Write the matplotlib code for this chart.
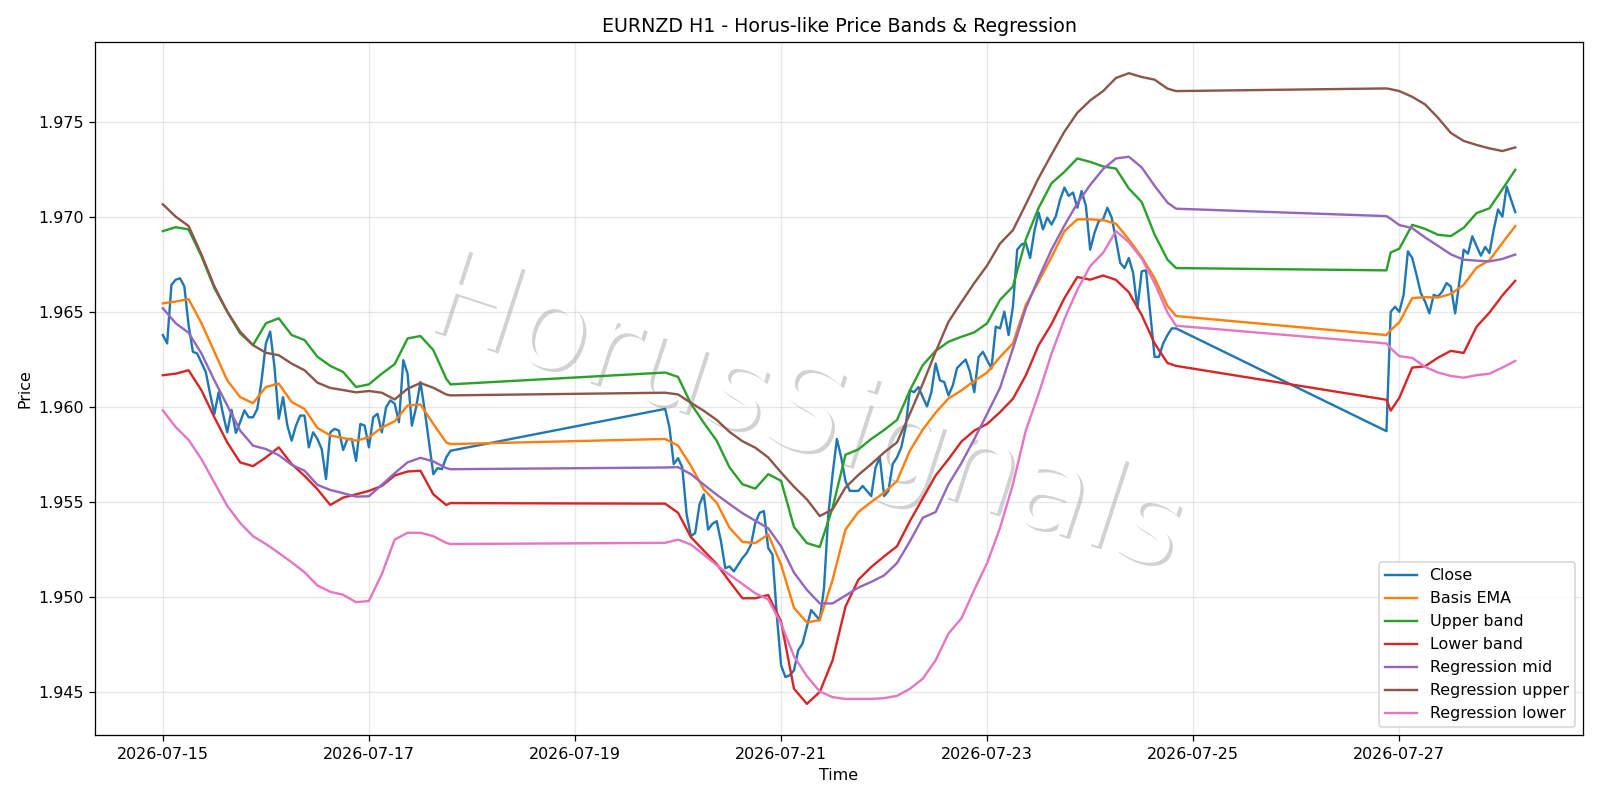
import pandas as pd
import matplotlib
matplotlib.use('Agg')
import matplotlib.pyplot as plt
import matplotlib.patheffects as pe

start = pd.Timestamp('2026-07-15 00:00')

# hourly closes, three trading sessions (hours counted from start)
close_hours = list(range(0, 68)) + list(range(117, 237)) + list(range(285, 316))
close = [
    # session 1: 07-15 00:00 .. 07-17 19:00
    1.96378, 1.96334, 1.96642, 1.96669, 1.96676, 1.96634, 1.96430, 1.96290, 1.96281, 1.96232,
    1.96184, 1.96070, 1.95964, 1.96077, 1.95964, 1.95867, 1.95985, 1.95864, 1.95920, 1.95982,
    1.95946, 1.95946, 1.95990, 1.96140, 1.96334, 1.96396, 1.96211, 1.95938, 1.96052, 1.95902,
    1.95823, 1.95902, 1.95955, 1.95955, 1.95788, 1.95867, 1.95832, 1.95779, 1.95621, 1.95867,
    1.95885, 1.95876, 1.95774, 1.95832, 1.95832, 1.95717, 1.95911, 1.95902, 1.95788, 1.95946,
    1.95964, 1.95867, 1.95999, 1.96035, 1.96017, 1.95920, 1.96246, 1.96175, 1.95902, 1.95999,
    1.96131, 1.95982, 1.95814, 1.95647, 1.95679, 1.95673, 1.95735, 1.95770,
    # session 2: 07-19 21:00 .. 07-24 20:00
    1.95990, 1.95893, 1.95700, 1.95731, 1.95682, 1.95435, 1.95321, 1.95338, 1.95488, 1.95541,
    1.95356, 1.95386, 1.95400, 1.95294, 1.95153, 1.95162, 1.95136, 1.95171, 1.95206, 1.95233,
    1.95277, 1.95391, 1.95444, 1.95453, 1.95259, 1.95224, 1.94907, 1.94643, 1.94581, 1.94590,
    1.94616, 1.94722, 1.94757, 1.94845, 1.94933, 1.94907, 1.94880, 1.95048, 1.95435, 1.95647,
    1.95832, 1.95735, 1.95611, 1.95559, 1.95559, 1.95559, 1.95585, 1.95559, 1.95532, 1.95682,
    1.95735, 1.95532, 1.95559, 1.95700, 1.95735, 1.95788, 1.95893, 1.96087, 1.96078, 1.96105,
    1.96052, 1.96003, 1.96078, 1.96228, 1.96140, 1.96131, 1.96061, 1.96114, 1.96205, 1.96228,
    1.96249, 1.96184, 1.96078, 1.96263, 1.96290, 1.96246, 1.96202, 1.96422, 1.96413, 1.96501,
    1.96378, 1.96528, 1.96827, 1.96854, 1.96862, 1.96783, 1.96924, 1.97021, 1.96933, 1.96995,
    1.96959, 1.97003, 1.97091, 1.97153, 1.97109, 1.97127, 1.97047, 1.97135, 1.97056, 1.96827,
    1.96915, 1.96977, 1.96986, 1.97047, 1.96995, 1.96880, 1.96757, 1.96730, 1.96783, 1.96704,
    1.96519, 1.96713, 1.96718, 1.96492, 1.96263, 1.96263, 1.96334, 1.96378, 1.96413, 1.96413,
    # session 3: 07-26 21:00 .. 07-28 03:00
    1.95873, 1.96500, 1.96527, 1.96500, 1.96589, 1.96818, 1.96783, 1.96695, 1.96598, 1.96554,
    1.96492, 1.96589, 1.96580, 1.96607, 1.96651, 1.96633, 1.96492, 1.96659, 1.96827, 1.96806,
    1.96897, 1.96845, 1.96795, 1.96841, 1.96809, 1.96933, 1.97038, 1.97000, 1.97158, 1.97091,
    1.97024,
]

# bands read every 3 hours
band_hours = (list(range(0, 67, 3)) + [67]
              + list(range(117, 235, 3)) + [236]
              + [285, 286] + list(range(288, 316, 3)))

basis = [
    1.96545, 1.96554, 1.96567, 1.96440, 1.96290, 1.96140, 1.96052, 1.96020, 1.96105, 1.96123,
    1.96026, 1.95990, 1.95890, 1.95850, 1.95837, 1.95823, 1.95841, 1.95892, 1.95925, 1.96008,
    1.96013, 1.95911, 1.95814, 1.95805,
    1.95832, 1.95797, 1.95691, 1.95567, 1.95497, 1.95365, 1.95291, 1.95285, 1.95330, 1.95171,
    1.94945, 1.94868, 1.94880, 1.95092, 1.95356, 1.95448, 1.95501, 1.95550, 1.95611, 1.95770,
    1.95881, 1.95970, 1.96045, 1.96087, 1.96137, 1.96181, 1.96263, 1.96334, 1.96536, 1.96660,
    1.96788, 1.96924, 1.96986, 1.96986, 1.96982, 1.96963, 1.96880, 1.96788, 1.96677, 1.96531,
    1.96478,
    1.96378, 1.96404, 1.96445, 1.96572, 1.96577, 1.96575, 1.96594, 1.96642, 1.96732, 1.96771,
    1.96862, 1.96950,
]
upper = [
    1.96924, 1.96945, 1.96933, 1.96792, 1.96625, 1.96501, 1.96387, 1.96325, 1.96440, 1.96466,
    1.96378, 1.96352, 1.96264, 1.96216, 1.96184, 1.96105, 1.96119, 1.96175, 1.96225, 1.96360,
    1.96373, 1.96299, 1.96149, 1.96119,
    1.96181, 1.96158, 1.96017, 1.95917, 1.95823, 1.95682, 1.95594, 1.95571, 1.95647, 1.95612,
    1.95370, 1.95285, 1.95264, 1.95471, 1.95749, 1.95777, 1.95832, 1.95879, 1.95932, 1.96087,
    1.96220, 1.96295, 1.96343, 1.96369, 1.96392, 1.96440, 1.96563, 1.96633, 1.96880, 1.97047,
    1.97176, 1.97236, 1.97306, 1.97288, 1.97264, 1.97253, 1.97148, 1.97077, 1.96906, 1.96774,
    1.96730,
    1.96718, 1.96812, 1.96832, 1.96957, 1.96936, 1.96905, 1.96898, 1.96942, 1.97019, 1.97044,
    1.97144, 1.97246,
]
lower = [
    1.96167, 1.96175, 1.96193, 1.96087, 1.95946, 1.95814, 1.95709, 1.95689, 1.95735, 1.95788,
    1.95700, 1.95638, 1.95568, 1.95485, 1.95524, 1.95541, 1.95559, 1.95585, 1.95640, 1.95661,
    1.95665, 1.95541, 1.95485, 1.95495,
    1.95492, 1.95444, 1.95316, 1.95245, 1.95175, 1.95083, 1.94995, 1.94995, 1.95012, 1.94872,
    1.94520, 1.94440, 1.94502, 1.94669, 1.94951, 1.95092, 1.95159, 1.95215, 1.95268, 1.95400,
    1.95520, 1.95640, 1.95726, 1.95818, 1.95876, 1.95911, 1.95973, 1.96043, 1.96166, 1.96325,
    1.96436, 1.96572, 1.96683, 1.96669, 1.96691, 1.96668, 1.96603, 1.96483, 1.96334, 1.96231,
    1.96216,
    1.96038, 1.95981, 1.96048, 1.96207, 1.96214, 1.96259, 1.96295, 1.96284, 1.96422, 1.96496,
    1.96586, 1.96663,
]
reg_mid = [
    1.96519, 1.96440, 1.96390, 1.96281, 1.96140, 1.96008, 1.95876, 1.95797, 1.95779, 1.95747,
    1.95696, 1.95665, 1.95591, 1.95564, 1.95547, 1.95529, 1.95531, 1.95591, 1.95652, 1.95709,
    1.95733, 1.95714, 1.95679, 1.95673,
    1.95682, 1.95684, 1.95647, 1.95592, 1.95539, 1.95490, 1.95442, 1.95402, 1.95363, 1.95268,
    1.95130, 1.95039, 1.94968, 1.94968, 1.95009, 1.95051, 1.95081, 1.95115, 1.95180, 1.95294,
    1.95418, 1.95448, 1.95594, 1.95705, 1.95832, 1.95964, 1.96101, 1.96307, 1.96519, 1.96678,
    1.96827, 1.96954, 1.97070, 1.97167, 1.97250, 1.97306, 1.97315, 1.97259, 1.97162, 1.97074,
    1.97042,
    1.97003, 1.96989, 1.96956, 1.96940, 1.96891, 1.96847, 1.96802, 1.96774, 1.96769, 1.96765,
    1.96778, 1.96801,
]
reg_upper = [
    1.97065, 1.97000, 1.96951, 1.96801, 1.96634, 1.96501, 1.96396, 1.96325, 1.96285, 1.96272,
    1.96228, 1.96193, 1.96128, 1.96100, 1.96089, 1.96077, 1.96084, 1.96075, 1.96040, 1.96096,
    1.96126, 1.96101, 1.96066, 1.96061,
    1.96075, 1.96066, 1.96022, 1.95980, 1.95932, 1.95869, 1.95820, 1.95786, 1.95735, 1.95656,
    1.95581, 1.95515, 1.95427, 1.95462, 1.95577, 1.95643, 1.95700, 1.95761, 1.95814, 1.95964,
    1.96122, 1.96290, 1.96448, 1.96551, 1.96651, 1.96744, 1.96859, 1.96929, 1.97065, 1.97204,
    1.97327, 1.97447, 1.97546, 1.97611, 1.97660, 1.97729, 1.97754, 1.97734, 1.97720, 1.97673,
    1.97660,
    1.97674, 1.97670, 1.97660, 1.97630, 1.97590, 1.97520, 1.97440, 1.97398, 1.97377, 1.97359,
    1.97345, 1.97364,
]
reg_lower = [
    1.95982, 1.95894, 1.95827, 1.95726, 1.95603, 1.95480, 1.95391, 1.95321, 1.95280, 1.95233,
    1.95184, 1.95132, 1.95062, 1.95029, 1.95013, 1.94974, 1.94981, 1.95122, 1.95303, 1.95339,
    1.95339, 1.95321, 1.95286, 1.95280,
    1.95286, 1.95303, 1.95277, 1.95224, 1.95169, 1.95118, 1.95070, 1.95021, 1.94989, 1.94862,
    1.94690, 1.94586, 1.94505, 1.94475, 1.94466, 1.94466, 1.94466, 1.94470, 1.94482, 1.94519,
    1.94572, 1.94669, 1.94810, 1.94889, 1.95039, 1.95180, 1.95365, 1.95594, 1.95876, 1.96070,
    1.96281, 1.96462, 1.96616, 1.96740, 1.96810, 1.96924, 1.96866, 1.96780, 1.96651, 1.96496,
    1.96427,
    1.96334, 1.96308, 1.96267, 1.96258, 1.96211, 1.96181, 1.96163, 1.96154, 1.96167, 1.96175,
    1.96207, 1.96242,
]

t_close = start + pd.to_timedelta(close_hours, unit='h')
t_band = start + pd.to_timedelta(band_hours, unit='h')

fig, ax = plt.subplots(figsize=(14, 7), dpi=1600 / 14)

ax.plot(t_close, close, label='Close', linewidth=1.5)
ax.plot(t_band, basis, label='Basis EMA', linewidth=1.5)
ax.plot(t_band, upper, label='Upper band', linewidth=1.5)
ax.plot(t_band, lower, label='Lower band', linewidth=1.5)
ax.plot(t_band, reg_mid, label='Regression mid', linewidth=1.5)
ax.plot(t_band, reg_upper, label='Regression upper', linewidth=1.5)
ax.plot(t_band, reg_lower, label='Regression lower', linewidth=1.5)

# watermark, behind grid and lines
ax.text(0.477, 0.46, 'HorusSignals', transform=ax.transAxes, fontsize=76,
        color='white', rotation=-18, ha='center', va='center', zorder=0.4,
        path_effects=[pe.withSimplePatchShadow(offset=(2, -2), shadow_rgbFace='gray', alpha=0.35)])

ax.set_title('EURNZD H1 - Horus-like Price Bands & Regression')
ax.set_xlabel('Time')
ax.set_ylabel('Price')
ax.grid(True, alpha=0.3)
ax.legend(loc='lower right')

plt.tight_layout()
plt.savefig('out.png', dpi=1600 / 14)
